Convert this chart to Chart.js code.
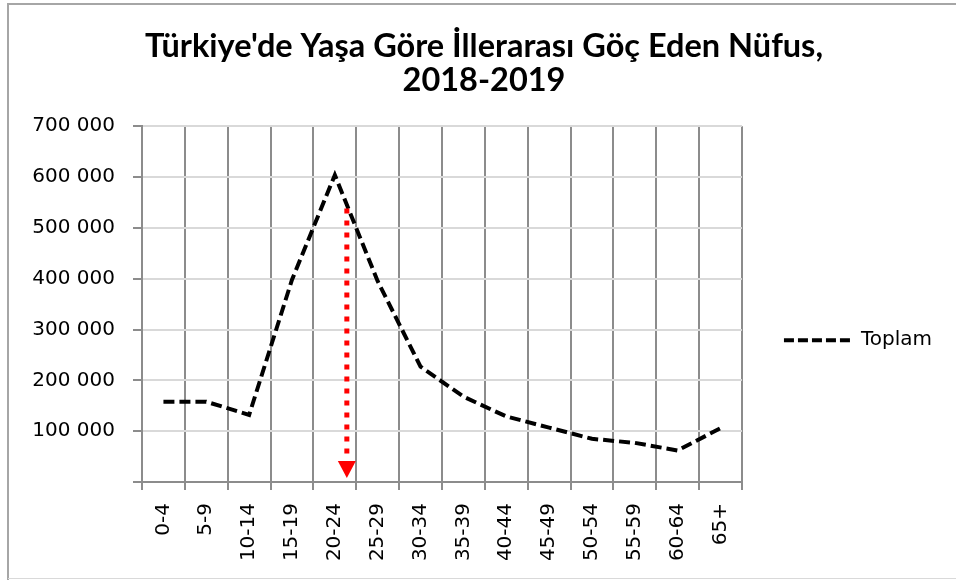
<!DOCTYPE html>
<html>
<head>
<meta charset="utf-8">
<title>Göç Eden Nüfus</title>
<script src="https://cdn.jsdelivr.net/npm/chart.js@4.4.1/dist/chart.umd.min.js"></script>
<style>
    html, body { margin: 0; padding: 0; background: #fff; }
    #wrap { position: relative; width: 956px; height: 580px; }
</style>
</head>
<body>
<div id="wrap"><canvas id="gocChart"></canvas></div>
<script>
// ===========================
// DATA
// ===========================

const titleLines = ["Türkiye'de Yaşa Göre İllerarası Göç Eden Nüfus,", '2018-2019'];
const ageGroups = ['0-4', '5-9', '10-14', '15-19', '20-24', '25-29', '30-34',
    '35-39', '40-44', '45-49', '50-54', '55-59', '60-64', '65+'];
const toplam = [158000, 158000, 132000, 398000, 604000, 395000, 227000,
    168000, 129000, 107000, 85000, 77000, 62000, 106000];
const yTickLabels = ['', '100 000', '200 000', '300 000', '400 000', '500 000', '600 000', '700 000'];
// red dotted arrow: which group, how far right of its centre, from/to values
const arrowAt = { group: '20-24', shift: 0.28, from: 538000, to: 8000 };

const tickFont = { family: "'DejaVu Sans', Verdana, sans-serif", size: 20 };

// ===========================
// PLUGINS
// ===========================

// white background and the outer frame
const framePlugin = {
    id: 'frame',
    beforeDraw(chart) {
        const { ctx, width, height } = chart;
        ctx.save();
        ctx.fillStyle = '#fff';
        ctx.fillRect(0, 0, width, height);
        ctx.strokeStyle = '#a6a6a6';
        ctx.lineWidth = 2;
        ctx.beginPath();
        ctx.moveTo(8, height);
        ctx.lineTo(8, 4);
        ctx.lineTo(width, 4);
        ctx.stroke();
        ctx.strokeStyle = '#d9d9d9';
        ctx.lineWidth = 1;
        ctx.beginPath();
        ctx.moveTo(8, height - 1.5);
        ctx.lineTo(width, height - 1.5);
        ctx.stroke();
        ctx.restore();
    }
};

// red dotted arrow pointing down to the axis
const arrowPlugin = {
    id: 'redArrow',
    afterDatasetsDraw(chart) {
        const { ctx, scales: { x, y } } = chart;
        const px = x.getPixelForValue(ageGroups.indexOf(arrowAt.group) + arrowAt.shift);
        const yTop = y.getPixelForValue(arrowAt.from);
        const yTip = y.getPixelForValue(arrowAt.to);
        const headH = 17;
        const headW = 9;

        ctx.save();
        ctx.strokeStyle = '#ff0000';
        ctx.fillStyle = '#ff0000';
        ctx.lineWidth = 5;
        ctx.setLineDash([5, 7]);
        ctx.beginPath();
        ctx.moveTo(px, yTop);
        ctx.lineTo(px, yTip - headH - 2);
        ctx.stroke();
        ctx.setLineDash([]);
        ctx.beginPath();
        ctx.moveTo(px - headW, yTip - headH);
        ctx.lineTo(px + headW, yTip - headH);
        ctx.lineTo(px, yTip);
        ctx.closePath();
        ctx.fill();
        ctx.restore();
    }
};

// ===========================
// CHART
// ===========================

function initGocChart() {
    const ctx = document.getElementById('gocChart');
    if (!ctx) return;

    new Chart(ctx, {
        type: 'line',
        data: {
            labels: ageGroups,
            datasets: [{
                label: 'Toplam',
                data: toplam,
                borderColor: '#000',
                backgroundColor: '#000',
                borderWidth: 4,
                borderDash: [11, 5],
                tension: 0,
                fill: false,
                pointRadius: 0,
                pointHoverRadius: 0
            }]
        },
        options: {
            responsive: true,
            maintainAspectRatio: false,
            animation: false,
            layout: {
                padding: { left: 26, right: 14, top: 0, bottom: 0 }
            },
            plugins: {
                title: {
                    display: true,
                    text: titleLines,
                    color: '#000',
                    font: {
                        family: "Lato, 'DejaVu Sans Condensed', sans-serif",
                        size: 32.5,
                        weight: 'bold',
                        lineHeight: 1.05
                    },
                    padding: { top: 29, bottom: 29 }
                },
                legend: {
                    position: 'right',
                    align: 'center',
                    title: {
                        display: true,
                        text: '',
                        padding: { top: 86, bottom: 0 }
                    },
                    labels: {
                        usePointStyle: true,
                        pointStyle: 'line',
                        pointStyleWidth: 67,
                        padding: 42,
                        color: '#000',
                        font: tickFont,
                        generateLabels: (chart) => {
                            const items = Chart.defaults.plugins.legend.labels.generateLabels(chart);
                            items.forEach(item => {
                                const ds = chart.data.datasets[item.datasetIndex];
                                item.lineDash = [10, 4];
                                item.lineWidth = ds.borderWidth;
                                item.strokeStyle = ds.borderColor;
                            });
                            return items;
                        }
                    }
                },
                tooltip: {
                    enabled: false
                }
            },
            scales: {
                x: {
                    offset: true,
                    grid: {
                        offset: true,
                        color: (c) => c.index === ageGroups.length ? '#d9d9d9' : '#8c8c8c',
                        tickColor: '#8c8c8c',
                        lineWidth: 2,
                        tickLength: 8
                    },
                    border: {
                        color: '#8c8c8c',
                        width: 2
                    },
                    ticks: {
                        autoSkip: false,
                        maxRotation: 90,
                        minRotation: 90,
                        padding: 13,
                        color: '#000',
                        font: tickFont
                    },
                    afterFit: (scale) => { scale.height = 98; }
                },
                y: {
                    min: 0,
                    max: 700000,
                    grid: {
                        color: '#d9d9d9',
                        tickColor: '#8c8c8c',
                        lineWidth: 2,
                        tickLength: 9
                    },
                    border: {
                        color: '#8c8c8c',
                        width: 2
                    },
                    ticks: {
                        stepSize: 100000,
                        padding: 18,
                        color: '#000',
                        font: tickFont,
                        callback: (value, index) => yTickLabels[index]
                    },
                    afterFit: (scale) => { scale.width = 116; }
                }
            }
        },
        plugins: [framePlugin, arrowPlugin]
    });
}

initGocChart();
</script>
</body>
</html>
